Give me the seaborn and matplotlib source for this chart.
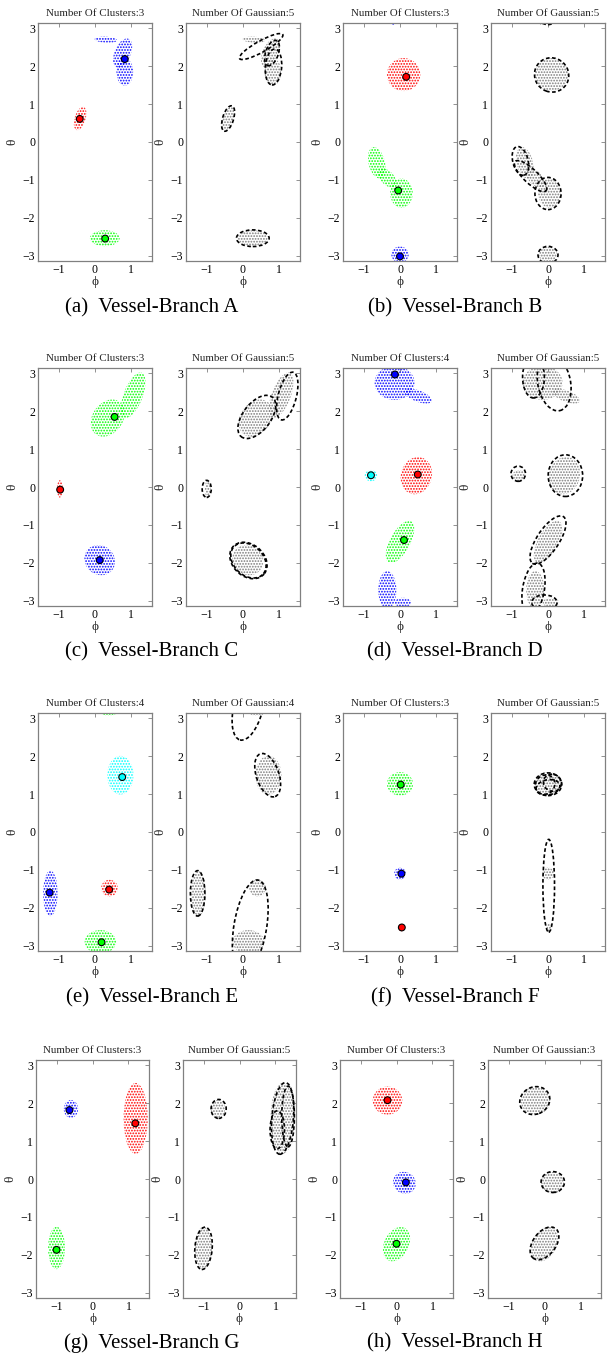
import numpy as np
import pandas as pd
import matplotlib
matplotlib.use("Agg")
import matplotlib.pyplot as plt
from matplotlib.patches import Ellipse
import seaborn as sns

# ---------------- data ----------------
# blobs of assigned points: (phi, theta, width, height, angle_deg, cluster colour)
A_blobs = [(0.30, 2.70, 0.62, 0.16, -3, "blue"), (0.76, 2.35, 0.44, 0.82, -25, "blue"),
           (0.82, 1.85, 0.46, 0.72, 0, "blue"), (-0.41, 0.62, 0.30, 0.64, -18, "red"),
           (0.27, -2.54, 0.82, 0.42, 0, "lime")]
A_gauss = [(0.50, 2.52, 0.30, 1.35, -62, None), (0.84, 1.98, 0.45, 0.95, -5, None),
           (0.80, 2.35, 0.35, 0.70, -20, None), (-0.41, 0.62, 0.30, 0.70, -18, None),
           (0.27, -2.54, 0.90, 0.44, 0, None)]
A_centers = [(0.82, 2.19, "blue"), (-0.42, 0.61, "red"), (0.28, -2.55, "lime")]

B_blobs = [(0.10, 1.78, 0.92, 0.87, 0, "red"), (-0.64, -0.55, 0.45, 0.85, 15, "lime"),
           (-0.35, -0.95, 0.36, 0.62, 45, "lime"), (0.04, -1.35, 0.62, 0.77, 0, "lime"),
           (0.00, -2.97, 0.48, 0.42, 0, "blue"), (-0.18, 3.14, 0.10, 0.10, 0, "blue")]
B_gauss = [(0.10, 1.77, 0.95, 0.90, -20, None), (-0.76, -0.50, 0.42, 0.78, 15, None),
           (-0.48, -0.90, 0.38, 1.15, 48, None), (0.00, -1.36, 0.72, 0.85, 0, None),
           (0.00, -2.98, 0.55, 0.45, 0, None), (0.00, 3.18, 0.35, 0.16, 0, None)]
B_centers = [(0.17, 1.72, "red"), (-0.05, -1.28, "lime"), (0.00, -3.02, "blue")]

C_blobs = [(0.35, 1.82, 0.82, 1.08, -40, "lime"), (1.05, 2.42, 0.52, 1.28, -22, "lime"),
           (-0.97, -0.05, 0.16, 0.46, 0, "red"), (0.13, -1.93, 0.87, 0.77, -30, "blue")]
C_gauss = [(0.38, 1.85, 0.75, 1.35, -40, None), (1.22, 2.40, 0.50, 1.30, -15, None),
           (-1.00, -0.05, 0.25, 0.45, 0, None), (0.15, -1.94, 0.85, 1.12, 52, None),
           (0.15, -1.94, 0.80, 1.08, 50, None)]
C_centers = [(0.54, 1.85, "lime"), (-0.96, -0.07, "red"), (0.13, -1.93, "blue")]

D_blobs = [(-0.15, 2.75, 1.10, 0.90, 0, "blue"), (0.50, 2.40, 0.80, 0.30, -20, "blue"),
           (-0.35, -2.72, 0.50, 1.00, 0, "blue"), (0.08, -3.05, 0.45, 0.25, 0, "blue"),
           (0.45, 0.30, 0.85, 1.00, -20, "red"), (-0.80, 0.30, 0.35, 0.30, 0, "cyan"),
           (0.00, -1.45, 0.55, 1.25, -30, "lime")]
D_gauss = [(-0.40, 2.90, 0.60, 1.10, 0, None), (0.17, 2.75, 0.90, 1.50, 12, None),
           (-0.82, 0.35, 0.40, 0.40, 0, None), (0.48, 0.30, 0.95, 1.10, 0, None),
           (0.00, -1.40, 0.60, 1.50, -35, None), (-0.40, -2.70, 0.60, 1.40, -10, None),
           (-0.10, -3.05, 0.70, 0.40, 0, None)]
D_centers = [(-0.14, 2.97, "blue"), (0.49, 0.33, "red"), (-0.80, 0.31, "cyan"), (0.11, -1.40, "lime")]

E_blobs = [(0.38, 3.14, 0.40, 0.15, 0, "lime"), (0.70, 1.50, 0.72, 1.02, 0, "cyan"),
           (-1.23, -1.62, 0.40, 1.20, 0, "blue"), (0.40, -1.48, 0.46, 0.44, 0, "red"),
           (0.15, -2.90, 0.87, 0.62, 0, "lime")]
E_gauss = [(0.15, 3.30, 0.80, 1.80, -15, None), (0.68, 1.50, 0.62, 1.20, 20, None),
           (-1.25, -1.62, 0.40, 1.20, 0, None), (0.20, -2.50, 0.90, 2.50, -10, None)]
E_centers = [(0.75, 1.45, "cyan"), (-1.25, -1.60, "blue"), (0.39, -1.52, "red"), (0.18, -2.91, "lime")]

F_blobs = [(0.00, 1.27, 0.72, 0.62, 0, "lime"), (0.00, -1.10, 0.32, 0.32, 0, "blue"),
           (0.03, -2.52, 0.15, 0.22, 0, "red")]
F_gauss = [(0.00, 1.26, 0.76, 0.60, 0, None), (-0.08, 1.25, 0.55, 0.50, 30, None),
           (0.12, 1.30, 0.50, 0.45, -20, None), (0.00, 1.18, 0.66, 0.40, 10, None),
           (0.02, -1.42, 0.32, 2.45, 0, None)]
F_centers = [(0.02, 1.25, "lime"), (0.04, -1.10, "blue"), (0.05, -2.52, "red")]

G_blobs = [(-0.60, 1.85, 0.40, 0.47, 0, "blue"), (1.20, 1.60, 0.67, 1.87, 0, "red"),
           (-1.00, -1.82, 0.47, 1.12, 0, "lime")]
G_gauss = [(-0.58, 1.85, 0.42, 0.50, 0, None), (1.20, 1.60, 0.60, 1.90, -5, None),
           (1.35, 1.65, 0.35, 1.60, 0, None), (1.05, 1.30, 0.40, 1.00, 0, None),
           (-1.00, -1.83, 0.48, 1.12, -5, None)]
G_centers = [(-0.64, 1.82, "blue"), (1.19, 1.47, "red"), (-1.00, -1.87, "lime")]

H_blobs = [(-0.25, 2.07, 0.82, 0.74, 0, "red"), (0.22, -0.10, 0.64, 0.57, -20, "blue"),
           (0.00, -1.72, 0.67, 0.97, -30, "lime")]
H_gauss = [(-0.27, 2.07, 0.85, 0.72, 20, None), (0.23, -0.08, 0.65, 0.55, 0, None),
           (0.00, -1.70, 0.62, 1.00, -40, None)]
H_centers = [(-0.25, 2.08, "red"), (0.26, -0.09, "blue"), (0.00, -1.71, "lime")]

captions = ["(a)  Vessel-Branch A", "(b)  Vessel-Branch B", "(c)  Vessel-Branch C",
            "(d)  Vessel-Branch D", "(e)  Vessel-Branch E", "(f)  Vessel-Branch F",
            "(g)  Vessel-Branch G", "(h)  Vessel-Branch H"]
n_clusters = [3, 3, 3, 4, 4, 3, 3, 3]
n_gauss = [5, 5, 5, 5, 4, 5, 5, 3]
x_ticks = [-1, 0, 1]
y_ticks = [-3, -2, -1, 0, 1, 2, 3]

branches = [(A_blobs, A_gauss, A_centers), (B_blobs, B_gauss, B_centers),
            (C_blobs, C_gauss, C_centers), (D_blobs, D_gauss, D_centers),
            (E_blobs, E_gauss, E_centers), (F_blobs, F_gauss, F_centers),
            (G_blobs, G_gauss, G_centers), (H_blobs, H_gauss, H_centers)]

# ---------------- style ----------------
sns.set_theme(style="white")
plt.rcParams["font.family"] = ["Liberation Serif", "DejaVu Serif"]
plt.rcParams["hatch.linewidth"] = 0.85

W, H = 611, 1359
fig = plt.figure(figsize=(W / 100, H / 100), dpi=100)

rows_top = [23, 368, 713, 1060]
ax_h = 238
col_left = [[38, 186, 343, 491]] * 3 + [[36, 183, 340, 488]]
ax_w = [114, 114, 114, 113]
cap_y = [308, 652, 998, 1343]
cap_x = [152, 455]
SPINE = "#808080"
DOT_GREY = "#7c7c7c"
HATCH = "......"


def frac(l, t, w, h):
    return [l / W, 1 - (t + h) / H, w / W, h / H]


def style_axes(ax, title):
    ax.set_xlim(-np.pi / 2, np.pi / 2)
    ax.set_ylim(-np.pi, np.pi)
    ax.set_xticks(x_ticks)
    ax.set_yticks(y_ticks)
    ax.set_xticklabels([f"{v}".replace("-", "\u2212") for v in x_ticks])
    ax.set_yticklabels([f"{v}".replace("-", "\u2212") for v in y_ticks])
    ax.tick_params(direction="in", length=3, width=0.6, color=SPINE,
                   top=True, right=True, labelsize=8.5, pad=2, labelcolor="black")
    for s in ax.spines.values():
        s.set_color(SPINE)
        s.set_linewidth(0.9)
        s.set_visible(True)
    ax.set_xlabel("\u03d5", fontsize=9.5, labelpad=0)
    ax.set_ylabel("\u03b8", fontsize=9.5, labelpad=3)
    ax.set_title(title, fontsize=7.9, pad=5)
    ax.set_facecolor("white")
    ax.grid(False)


for i, (blobs, gauss, centers) in enumerate(branches):
    r, c = divmod(i, 2)
    top = rows_top[r]
    lefts = col_left[r][2 * c: 2 * c + 2]
    w = ax_w[r]
    ax1 = fig.add_axes(frac(lefts[0], top, w, ax_h))
    ax2 = fig.add_axes(frac(lefts[1], top, w, ax_h))

    # cluster panel: points coloured by cluster
    for (x, y, ew, eh, ang, col) in blobs:
        e = Ellipse((x, y), ew, eh, angle=ang, facecolor="none", edgecolor=col,
                    linewidth=0, hatch=HATCH)
        ax1.add_patch(e)
    cdf = pd.DataFrame(centers, columns=["phi", "theta", "cluster"])
    sns.scatterplot(data=cdf, x="phi", y="theta", hue="cluster",
                    palette={k: k for k in cdf["cluster"]}, s=24,
                    edgecolor="black", linewidth=0.8, legend=False, ax=ax1, zorder=5)
    style_axes(ax1, f"Number Of Clusters:{n_clusters[i]}")

    # gaussian panel: grey points + dashed ellipses
    for (x, y, ew, eh, ang, col) in blobs:
        e = Ellipse((x, y), ew, eh, angle=ang, facecolor="none", edgecolor=DOT_GREY,
                    linewidth=0, hatch=HATCH)
        ax2.add_patch(e)
    for (x, y, ew, eh, ang, _) in gauss:
        e = Ellipse((x, y), ew, eh, angle=ang, facecolor="none", edgecolor="black",
                    linewidth=1.2, linestyle=(0, (2.2, 1.5)))
        ax2.add_patch(e)
    style_axes(ax2, f"Number Of Gaussian:{n_gauss[i]}")

    fig.text(cap_x[c] / W, 1 - cap_y[r] / H, captions[i], ha="center", va="center",
             fontsize=15, color="black")

fig.savefig("out.png", dpi=100, facecolor="white")
